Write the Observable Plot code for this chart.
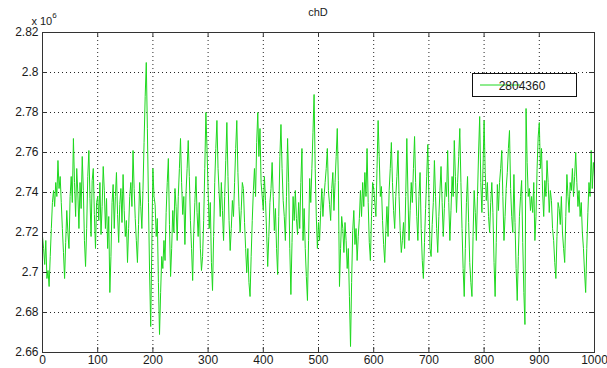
<!DOCTYPE html>
<html>
<head>
<meta charset="utf-8">
<script src="https://cdn.jsdelivr.net/npm/d3@7"></script>
<script src="https://cdn.jsdelivr.net/npm/@observablehq/plot@0.6"></script>
<style>
  html, body { margin: 0; padding: 0; background: #fff; }
  #chart svg { display: block; }
</style>
</head>
<body>
<div id="chart"></div>
<script>
// chD samples (values in units of 10^6), one value every 2 samples
const sampleStep = 2;
const seg000 = [2.718,2.712,2.704,2.716,2.697,2.701,2.693,2.708,2.722,2.735,2.741,2.733,2.745,2.738,2.756,2.742,2.748,2.735,2.722,2.710,2.697,2.715,2.731,2.720,2.712,2.738,2.748,2.735,2.767,2.745,2.728,2.752,2.740,2.722,2.745,2.732,2.758,2.741,2.716,2.703,2.722,2.748,2.761,2.737,2.718,2.746,2.752,2.729,2.712,2.735];
const seg100 = [2.738,2.726,2.745,2.719,2.733,2.753,2.741,2.722,2.737,2.712,2.728,2.690,2.708,2.735,2.744,2.722,2.738,2.750,2.729,2.715,2.734,2.742,2.725,2.749,2.731,2.718,2.726,2.705,2.722,2.738,2.745,2.733,2.761,2.742,2.727,2.716,2.705,2.724,2.745,2.733,2.722,2.741,2.765,2.788,2.805,2.772,2.735,2.700,2.673,2.712];
const seg200 = [2.752,2.738,2.734,2.718,2.727,2.695,2.669,2.690,2.708,2.702,2.716,2.706,2.730,2.745,2.757,2.724,2.698,2.712,2.731,2.720,2.742,2.733,2.716,2.738,2.752,2.767,2.745,2.729,2.738,2.714,2.740,2.752,2.766,2.748,2.726,2.712,2.696,2.720,2.735,2.748,2.730,2.718,2.735,2.712,2.701,2.708,2.726,2.752,2.780,2.762];
const seg300 = [2.741,2.722,2.735,2.705,2.691,2.718,2.745,2.762,2.776,2.752,2.740,2.728,2.745,2.731,2.716,2.738,2.756,2.775,2.748,2.726,2.711,2.722,2.736,2.728,2.745,2.762,2.776,2.750,2.733,2.720,2.731,2.745,2.742,2.725,2.712,2.700,2.712,2.695,2.688,2.708,2.726,2.741,2.752,2.738,2.765,2.780,2.758,2.772,2.745,2.738];
const seg400 = [2.731,2.748,2.736,2.720,2.703,2.718,2.735,2.742,2.755,2.738,2.721,2.732,2.712,2.699,2.728,2.758,2.774,2.752,2.736,2.728,2.716,2.738,2.767,2.745,2.712,2.689,2.715,2.738,2.726,2.741,2.727,2.719,2.735,2.722,2.745,2.762,2.716,2.732,2.712,2.698,2.686,2.716,2.747,2.735,2.752,2.770,2.789,2.752,2.728,2.712];
const seg500 = [2.725,2.716,2.731,2.742,2.728,2.738,2.745,2.752,2.762,2.741,2.734,2.726,2.742,2.750,2.731,2.745,2.758,2.772,2.746,2.693,2.712,2.728,2.722,2.710,2.725,2.716,2.702,2.712,2.688,2.663,2.695,2.721,2.731,2.714,2.722,2.706,2.718,2.727,2.741,2.728,2.745,2.733,2.750,2.738,2.762,2.735,2.715,2.706,2.728,2.745];
const seg600 = [2.742,2.735,2.728,2.752,2.776,2.758,2.738,2.743,2.726,2.714,2.705,2.721,2.733,2.718,2.741,2.752,2.765,2.745,2.731,2.722,2.738,2.748,2.761,2.738,2.721,2.710,2.716,2.725,2.712,2.738,2.767,2.740,2.716,2.731,2.745,2.735,2.752,2.768,2.745,2.728,2.716,2.738,2.750,2.722,2.706,2.697,2.715,2.732,2.748,2.764];
const seg700 = [2.738,2.712,2.708,2.724,2.735,2.756,2.738,2.722,2.710,2.728,2.741,2.753,2.735,2.718,2.732,2.745,2.738,2.761,2.735,2.716,2.731,2.748,2.738,2.766,2.748,2.730,2.745,2.758,2.772,2.745,2.722,2.702,2.688,2.712,2.735,2.748,2.725,2.705,2.695,2.688,2.718,2.741,2.730,2.716,2.738,2.760,2.778,2.745,2.730,2.752];
const seg800 = [2.776,2.750,2.736,2.745,2.728,2.720,2.735,2.745,2.730,2.705,2.688,2.715,2.744,2.731,2.745,2.752,2.761,2.738,2.716,2.728,2.742,2.750,2.762,2.771,2.742,2.728,2.720,2.749,2.725,2.702,2.686,2.708,2.728,2.738,2.746,2.715,2.690,2.674,2.782,2.755,2.738,2.742,2.731,2.738,2.730,2.745,2.716,2.728,2.752,2.768];
const seg900 = [2.775,2.752,2.762,2.740,2.728,2.746,2.738,2.756,2.745,2.730,2.741,2.736,2.722,2.716,2.705,2.697,2.718,2.735,2.732,2.724,2.738,2.720,2.712,2.705,2.728,2.749,2.738,2.730,2.745,2.741,2.752,2.738,2.748,2.760,2.745,2.733,2.741,2.728,2.735,2.720,2.712,2.700,2.690,2.712,2.730,2.745,2.738,2.761,2.742,2.755,2.748];

const xTicks = [0,100,200,300,400,500,600,700,800,900,1000];
const yTicks = [2.66,2.68,2.7,2.72,2.74,2.76,2.78,2.8,2.82];
const titleText = "chD";
const seriesName = "2804360";

const values = [].concat(seg000, seg100, seg200, seg300, seg400, seg500, seg600, seg700, seg800, seg900);
const data = values.map((v, i) => ({x: i * sampleStep, y: v}));

const W = 607, H = 368;
const mL = 42, mR = 13, mT = 32, mB = 16;
const xDom = [xTicks[0], xTicks[xTicks.length - 1]];
const yDom = [yTicks[0], yTicks[yTicks.length - 1]];
const tickPx = 5;
const tx = (xDom[1] - xDom[0]) * tickPx / (W - mL - mR);
const ty = (yDom[1] - yDom[0]) * tickPx / (H - mT - mB);
const innerX = xTicks.slice(1, -1);
const innerY = yTicks.slice(1, -1);
const green = "#1ed81e";

const svg = Plot.plot({
  width: W, height: H,
  marginLeft: mL, marginRight: mR, marginTop: mT, marginBottom: mB,
  style: {fontFamily: "'Liberation Sans', Arial, sans-serif", fontSize: "12px", color: "#1a1a1a", background: "#fff", overflow: "visible"},
  x: {domain: xDom, ticks: xTicks, tickSize: 0, tickPadding: 3, tickFormat: d => String(d), label: null},
  y: {domain: yDom, ticks: yTicks, tickSize: 0, tickPadding: 4, tickFormat: d => String(+d.toFixed(2)), label: null},
  marks: [
    Plot.ruleX(innerX, {x: d => d, stroke: "#000", strokeWidth: 1, strokeDasharray: "1,3", strokeOpacity: 0.85}),
    Plot.ruleY(innerY, {y: d => d, stroke: "#000", strokeWidth: 1, strokeDasharray: "1,3", strokeOpacity: 0.85}),
    Plot.line(data, {x: "x", y: "y", stroke: green, strokeWidth: 1}),
    Plot.ruleX(innerX, {x: d => d, y1: yDom[0], y2: yDom[0] + ty, stroke: "#333"}),
    Plot.ruleX(innerX, {x: d => d, y1: yDom[1] - ty, y2: yDom[1], stroke: "#333"}),
    Plot.ruleY(innerY, {y: d => d, x1: xDom[0], x2: xDom[0] + tx, stroke: "#333"}),
    Plot.ruleY(innerY, {y: d => d, x1: xDom[1] - tx, x2: xDom[1], stroke: "#333"}),
    Plot.frame({stroke: "#333", strokeWidth: 1})
  ]
});

const s = d3.select(svg);
// title
s.append("text").attr("x", (mL + W - mR) / 2).attr("y", 16).attr("text-anchor", "middle")
  .attr("font-size", 11).attr("fill", "#1a1a1a").text(titleText);
// exponent label
const ex = s.append("text").attr("x", 44).attr("y", 25).attr("font-size", 11).attr("fill", "#1a1a1a");
ex.append("tspan").text("x 10");
ex.append("tspan").attr("dy", -7).attr("font-size", 8).text("6");
// legend
const lg = s.append("g");
lg.append("rect").attr("x", 472.5).attr("y", 73.5).attr("width", 104).attr("height", 23)
  .attr("fill", "#fff").attr("stroke", "#111").attr("stroke-width", 1);
lg.append("line").attr("x1", 480).attr("x2", 520).attr("y1", 85).attr("y2", 85)
  .attr("stroke", green).attr("stroke-width", 1);
lg.append("text").attr("x", 522).attr("y", 89.5).attr("font-size", 12).attr("fill", "#1a1a1a").text(seriesName);

document.getElementById("chart").appendChild(svg);
</script>
</body>
</html>
